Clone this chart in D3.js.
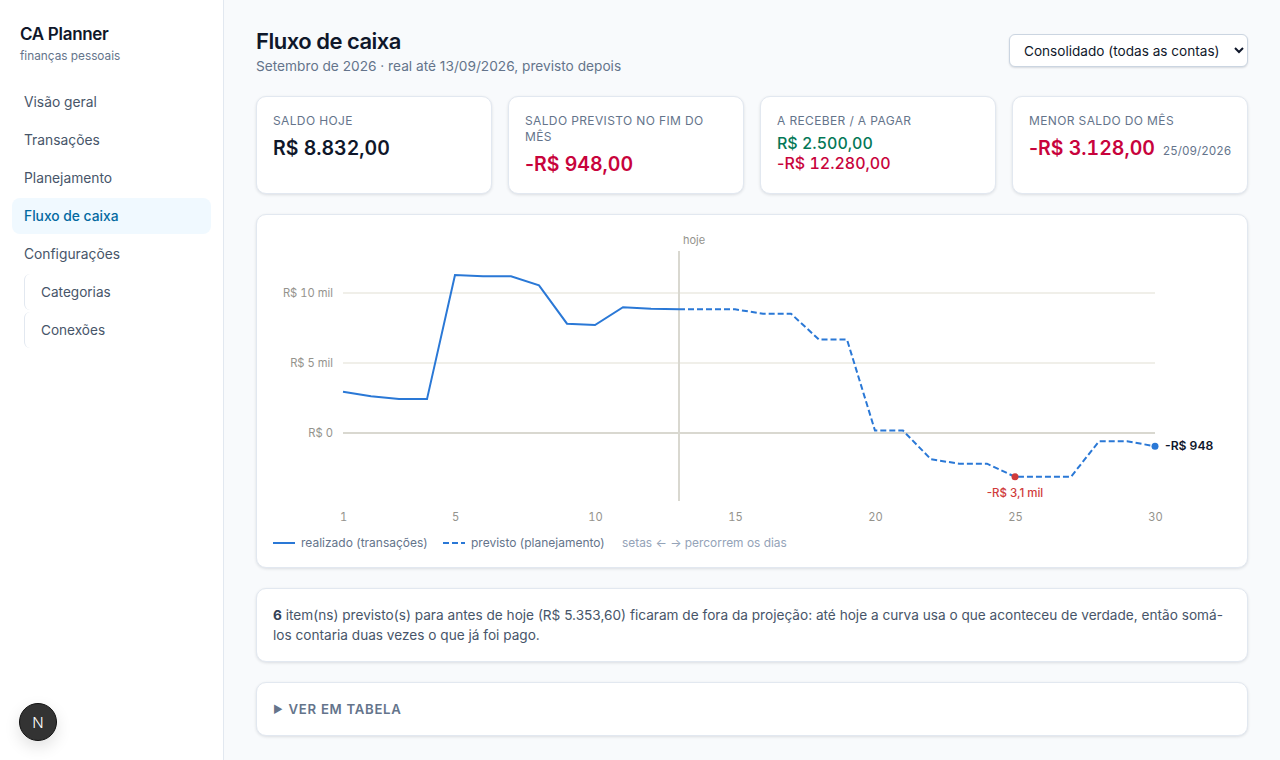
<!DOCTYPE html>
<html lang="pt-BR">
<head>
<meta charset="utf-8">
<title>Fluxo de caixa</title>
<script src="https://cdn.jsdelivr.net/npm/d3@7"></script>
<style>
    * { box-sizing: border-box; }
    html, body { margin: 0; height: 100%; overflow: hidden; }
    body { font-family: Inter, sans-serif; background: #f8fafc; color: #0f172a; width: 1280px; height: 760px; position: relative; }
    .sidebar { position: absolute; left: 0; top: 0; width: 224px; height: 760px; background: #fff; border-right: 1px solid #e2e8f0; }
    .brand { position: absolute; left: 20px; top: 23px; font-size: 17px; font-weight: 600; letter-spacing: -0.3px; line-height: 22px; }
    .brand-sub { position: absolute; left: 20px; top: 48px; font-size: 11.8px; color: #64748b; line-height: 16px; }
    .nav { position: absolute; left: 12px; width: 199px; height: 36px; line-height: 36px; padding-left: 12px; font-size: 13.8px; color: #475569; border-radius: 8px; }
    .nav.active { background: #f0f9ff; color: #0369a1; font-weight: 500; }
    .nav.sub { left: 24px; width: 187px; padding-left: 16px; font-size: 13.6px; border-left: 1px solid #e2e8f0; border-radius: 6px; }
    .badge { position: absolute; left: 19px; top: 703px; width: 38px; height: 38px; border-radius: 50%; background: #333; border: 1px solid #111; color: #fff; box-shadow: 0 6px 16px rgba(0,0,0,.12); text-align: center; line-height: 37px; font-size: 15px; font-weight: 300; }
    h1 { position: absolute; left: 256px; top: 26px; margin: 0; font-size: 22px; font-weight: 600; letter-spacing: -0.5px; line-height: 30px; }
    .subtitle { position: absolute; left: 256px; top: 57px; font-size: 13.7px; color: #64748b; line-height: 18px; }
    select { position: absolute; left: 1009px; top: 34px; width: 239px; height: 33px; font: 13.6px Inter, sans-serif; color: #0f172a; background: #fff; border: 1px solid #cbd5e1; border-radius: 6px; padding-left: 10px; box-shadow: 0 1px 2px rgba(15,23,42,.14); }
    .card { position: absolute; background: #fff; border: 1px solid #e2e8f0; border-radius: 10px; box-shadow: 0 1px 3px rgba(15,23,42,.12); }
    .kpi { top: 96px; width: 236px; height: 98px; padding: 16px; }
    .kpi .label { font-size: 12px; letter-spacing: 0.37px; color: #64748b; line-height: 16px; text-transform: uppercase; }
    .kpi .value { font-size: 19.5px; font-weight: 600; line-height: 28px; margin-top: 5px; white-space: nowrap; }
    .kpi .pair { font-size: 16px; font-weight: 500; line-height: 20px; margin-top: 4px; }
    .kpi .num { font-variant-numeric: tabular-nums; }
    .neg { color: #c8033c; }
    .pos { color: #047857; }
    .kpi .date { font-size: 11.6px; font-weight: 400; color: #64748b; margin-left: 3px; font-variant-numeric: tabular-nums; }
    #chart-card { left: 256px; top: 214px; width: 992px; height: 354px; }
    #chart { position: absolute; left: -1px; top: -1px; }
    .note { left: 256px; top: 588px; width: 992px; height: 74px; padding: 16px; font-size: 13.64px; line-height: 20.4px; color: #475569; }
    .note b { color: #334155; }
    .details { left: 256px; top: 682px; width: 992px; height: 54px; padding-left: 16px; line-height: 52px; font-size: 13.2px; font-weight: 600; letter-spacing: 0.7px; color: #64748b; }
    .details .arrow { font-size: 10.5px; margin-right: 5px; display: inline-block; vertical-align: 1px; }
</style>
</head>
<body>
<div class="sidebar">
    <div class="brand">CA Planner</div>
    <div class="brand-sub">finanças pessoais</div>
    <div class="nav" style="top:84px">Visão geral</div>
    <div class="nav" style="top:122px">Transações</div>
    <div class="nav" style="top:160px">Planejamento</div>
    <div class="nav active" style="top:198px">Fluxo de caixa</div>
    <div class="nav" style="top:236px">Configurações</div>
    <div class="nav sub" style="top:274px">Categorias</div>
    <div class="nav sub" style="top:312px">Conexões</div>
    <div class="badge">N</div>
</div>

<h1>Fluxo de caixa</h1>
<div class="subtitle">Setembro de 2026 · real até 13/09/2026, previsto depois</div>
<select><option>Consolidado (todas as contas)</option></select>

<div class="card kpi" style="left:256px">
    <div class="label">Saldo hoje</div>
    <div class="value"><span class="num">R$ 8.832,00</span></div>
</div>
<div class="card kpi" style="left:508px">
    <div class="label">Saldo previsto no fim do mês</div>
    <div class="value neg">-<span class="num">R$ 948,00</span></div>
</div>
<div class="card kpi" style="left:760px">
    <div class="label">A receber / a pagar</div>
    <div class="pair pos"><span class="num">R$ 2.500,00</span></div>
    <div class="pair neg" style="margin-top:0">-<span class="num">R$ 12.280,00</span></div>
</div>
<div class="card kpi" style="left:1012px">
    <div class="label">Menor saldo do mês</div>
    <div class="value neg">-<span class="num">R$ 3.128,00</span> <span class="date">25/09/2026</span></div>
</div>

<div class="card" id="chart-card"><svg id="chart" width="992" height="354"></svg></div>

<div class="card note"><b>6</b> item(ns) previsto(s) para antes de hoje (R$ 5.353,60) ficaram de fora da projeção: até hoje a curva usa o que aconteceu de verdade, então somá-los contaria duas vezes o que já foi pago.</div>

<div class="card details"><span class="arrow">▶</span>VER EM TABELA</div>

<script>
const realDays = [1, 2, 3, 4, 5, 6, 7, 8, 9, 10, 11, 12, 13];
const realValues = [2950, 2620, 2430, 2420, 11285, 11190, 11190, 10550, 7810, 7710, 8980, 8880, 8832];
const planDays = [13, 14, 15, 16, 17, 18, 19, 20, 21, 22, 23, 24, 25, 26, 27, 28, 29, 30];
const planValues = [8832, 8832, 8832, 8520, 8520, 6670, 6670, 170, 170, -1880, -2190, -2190, -3128, -3128, -3128, -590, -590, -948];
const xTicks = [1, 5, 10, 15, 20, 25, 30];
const yTicks = [0, 5000, 10000];
const yLabels = ['R$ 0', 'R$ 5 mil', 'R$ 10 mil'];
const todayDay = 13;
const minDay = 25, minValue = -3128, minLabel = '-R$ 3,1 mil';
const endDay = 30, endValue = -948, endLabel = '-R$ 948';

const blue = '#2a78d6', red = '#d03b3b';
const svg = d3.select('#chart');

// card is at 256,214 in the page, so the scales are in card coordinates
const x = d3.scaleLinear().domain([1, 30]).range([87, 899]);
const y = d3.scaleLinear().domain([0, 10000]).range([219, 79]);

svg.selectAll('.grid')
    .data(yTicks)
    .enter().append('line')
    .attr('x1', x(1)).attr('x2', x(30))
    .attr('y1', d => y(d)).attr('y2', d => y(d))
    .attr('stroke', d => d === 0 ? '#d9d8d0' : '#f0efe9')
    .attr('stroke-width', 2);

const yAxis = svg.append('g')
    .attr('transform', `translate(${x(1)},0)`)
    .call(d3.axisLeft(y).tickValues(yTicks).tickSize(0).tickPadding(10).tickFormat((d, i) => yLabels[i]));
yAxis.select('.domain').remove();

const xAxis = svg.append('g')
    .attr('transform', 'translate(0,295)')
    .call(d3.axisBottom(x).tickValues(xTicks).tickSize(0).tickPadding(4).tickFormat(d3.format('d')));
xAxis.select('.domain').remove();

svg.selectAll('.tick text')
    .attr('fill', '#94938d')
    .style('font-family', 'Inter, sans-serif')
    .style('font-variant-numeric', 'tabular-nums')
    .style('font-size', '11.2px');

svg.append('line')
    .attr('x1', x(todayDay)).attr('x2', x(todayDay))
    .attr('y1', 37).attr('y2', 287)
    .attr('stroke', '#d9d8d0').attr('stroke-width', 2);

svg.append('text')
    .attr('x', x(todayDay) + 15).attr('y', 30)
    .attr('text-anchor', 'middle')
    .attr('fill', '#94938d')
    .style('font-size', '11px')
    .text('hoje');

const line = d3.line().x(d => x(d[0])).y(d => y(d[1]));

svg.append('path')
    .datum(d3.zip(planDays, planValues))
    .attr('fill', 'none').attr('stroke', blue).attr('stroke-width', 2)
    .attr('stroke-dasharray', '6 3')
    .attr('d', line);

svg.append('path')
    .datum(d3.zip(realDays, realValues))
    .attr('fill', 'none').attr('stroke', blue).attr('stroke-width', 2)
    .attr('d', line);

svg.append('circle')
    .attr('cx', x(minDay)).attr('cy', y(minValue)).attr('r', 3.5)
    .attr('fill', red);
svg.append('text')
    .attr('x', x(minDay)).attr('y', y(minValue) + 20)
    .attr('text-anchor', 'middle').attr('fill', red)
    .style('font-size', '11.5px').style('font-weight', 500)
    .text(minLabel);

svg.append('circle')
    .attr('cx', x(endDay)).attr('cy', y(endValue)).attr('r', 3.5)
    .attr('fill', blue);
svg.append('text')
    .attr('x', x(endDay) + 10).attr('y', y(endValue) + 4)
    .attr('fill', '#0f172a')
    .style('font-size', '12.2px').style('font-weight', 600)
    .text(endLabel);

// legend
const legend = svg.append('g').attr('transform', 'translate(17,329)')
    .style('font-size', '12px');
legend.append('line').attr('x1', 0).attr('x2', 22).attr('stroke', blue).attr('stroke-width', 2);
legend.append('text').attr('x', 28).attr('y', 4).attr('fill', '#64748b').text('realizado (transações)');
legend.append('line').attr('x1', 170).attr('x2', 192).attr('stroke', blue).attr('stroke-width', 2).attr('stroke-dasharray', '6 3');
legend.append('text').attr('x', 198).attr('y', 4).attr('fill', '#64748b').text('previsto (planejamento)');
legend.append('text').attr('x', 349).attr('y', 4).attr('fill', '#94a3b8').style('font-size', '11.9px').text('setas ← → percorrem os dias');
</script>
</body>
</html>
